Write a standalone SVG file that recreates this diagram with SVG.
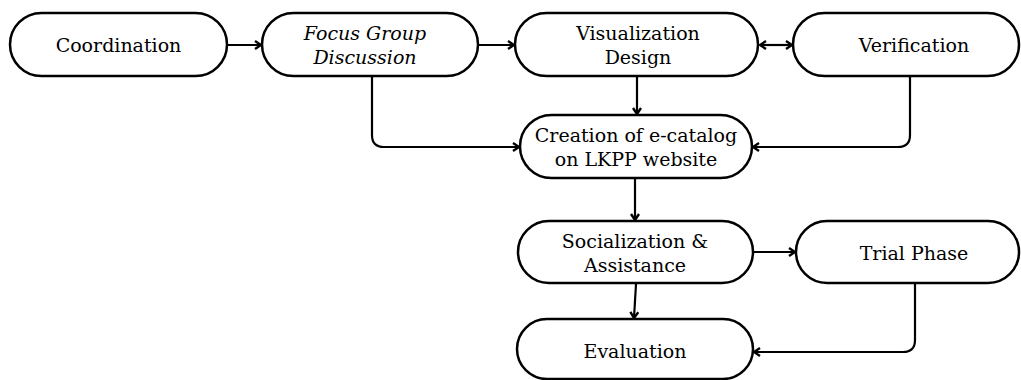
<svg xmlns="http://www.w3.org/2000/svg" width="1021" height="380" viewBox="0 0 1021 380">
<defs>
<marker id="ah" markerWidth="10" markerHeight="10" refX="8" refY="5" orient="auto" markerUnits="userSpaceOnUse">
<path d="M2,1 L8,5 L2,9" fill="none" stroke="#000" stroke-width="2.4"/>
</marker>
<marker id="ahs" markerWidth="10" markerHeight="10" refX="2" refY="5" orient="auto" markerUnits="userSpaceOnUse">
<path d="M8,1 L2,5 L8,9" fill="none" stroke="#000" stroke-width="2.4"/>
</marker>
</defs>
<style>
.n{fill:#fff;stroke:#000;stroke-width:2.5}
.t{font-family:"DejaVu Serif","Liberation Serif",serif;font-size:19px;fill:#000;text-anchor:middle}
.i{font-style:italic}
.c{fill:none;stroke:#000;stroke-width:2.2;marker-end:url(#ah)}
</style>
<rect width="1021" height="380" fill="#fff"/>
<g id="connectors">
<path class="c" d="M227,45 H261"/>
<path class="c" d="M478,45 H514"/>
<path class="c" d="M760,45 H792" style="marker-start:url(#ahs)"/>
<path class="c" d="M372,77 V135 Q372,147 384,147 H519"/>
<path class="c" d="M637,77 V114"/>
<path class="c" d="M910,77 V135 Q910,147 898,147 H753"/>
<path class="c" d="M635,179 V220"/>
<path class="c" d="M753,252 H795"/>
<path class="c" d="M636,284 L634,318"/>
<path class="c" d="M915,284 V340 Q915,352 903,352 H754"/>
</g>
<g id="coordination"><rect class="n" x="10" y="13" width="217" height="63" rx="31.5"/><text class="t" x="118.5" y="52">Coordination</text></g>
<g id="fgd"><rect class="n" x="262" y="13" width="216" height="63" rx="31.5"/><text class="t i" x="365" y="40">Focus Group</text><text class="t i" x="365" y="64">Discussion</text></g>
<g id="visualization"><rect class="n" x="515" y="13" width="243" height="63" rx="31.5"/><text class="t" x="638" y="40">Visualization</text><text class="t" x="638" y="64">Design</text></g>
<g id="verification"><rect class="n" x="793" y="13" width="226" height="63" rx="31.5"/><text class="t" x="914" y="52">Verification</text></g>
<g id="creation"><rect class="n" x="520" y="115" width="232" height="63" rx="31.5"/><text class="t" x="636" y="142">Creation of e-catalog</text><text class="t" x="636" y="166">on LKPP website</text></g>
<g id="socialization"><rect class="n" x="518" y="221" width="235" height="62" rx="31"/><text class="t" x="635" y="248">Socialization &amp;</text><text class="t" x="635" y="272">Assistance</text></g>
<g id="trial"><rect class="n" x="796" y="221" width="223" height="62" rx="31"/><text class="t" x="914" y="260">Trial Phase</text></g>
<g id="evaluation"><rect class="n" x="517" y="319" width="236" height="60" rx="30"/><text class="t" x="635" y="358">Evaluation</text></g>
</svg>
